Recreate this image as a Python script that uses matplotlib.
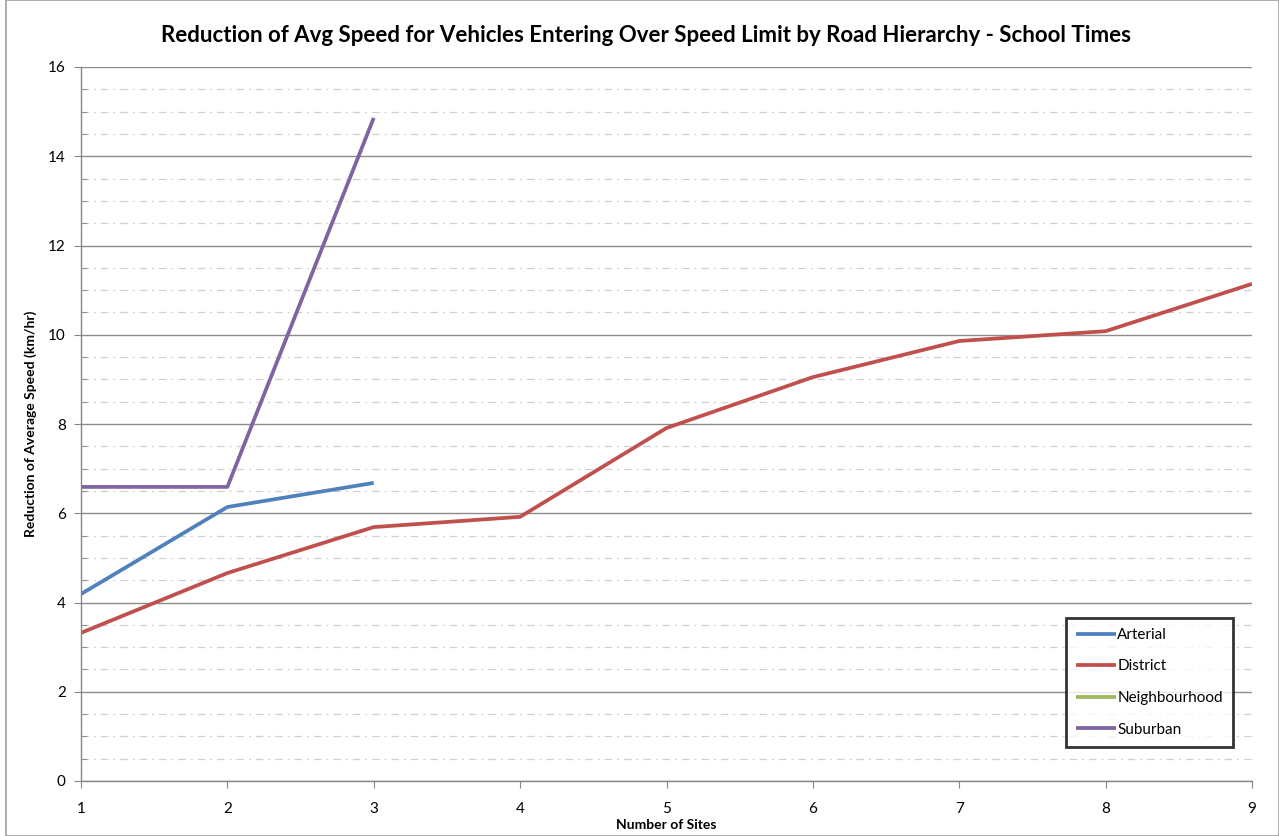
import matplotlib
matplotlib.use("Agg")
import matplotlib.pyplot as plt
from matplotlib.ticker import MultipleLocator
from matplotlib.patches import Rectangle

plt.rcParams['font.family'] = ['Lato', 'DejaVu Sans']

sites_arterial = [1, 2, 3]
arterial = [4.19, 6.14, 6.68]
sites_district = [1, 2, 3, 4, 5, 6, 7, 8, 9]
district = [3.32, 4.66, 5.69, 5.92, 7.91, 9.05, 9.86, 10.08, 11.14]
sites_neighbourhood = []
neighbourhood = []
sites_suburban = [1, 2, 3]
suburban = [6.59, 6.59, 14.86]

series = [
    ("Arterial", sites_arterial, arterial, "#4F81BD"),
    ("District", sites_district, district, "#C0504D"),
    ("Neighbourhood", sites_neighbourhood, neighbourhood, "#9BBB59"),
    ("Suburban", sites_suburban, suburban, "#8064A2"),
]

fig = plt.figure(figsize=(12.79, 8.36), dpi=100)
ax = fig.add_axes([81/1279, 55/836, (1252-81)/1279, (781-67)/836])

for name, xs, ys, c in series:
    ax.plot(xs, ys, color=c, lw=2.7, label=name, solid_capstyle='butt')

ax.set_xlim(1, 9)
ax.set_ylim(0, 16)
ax.xaxis.set_major_locator(MultipleLocator(1))
ax.yaxis.set_major_locator(MultipleLocator(2))
ax.yaxis.set_minor_locator(MultipleLocator(0.5))
ax.grid(which='major', axis='y', color='#8C8C8C', lw=1.0)
ax.grid(which='minor', axis='y', color='#D0D0D0', lw=0.9, linestyle=(0, (6, 4, 1.5, 4)))
ax.set_axisbelow(True)
for s in ['top', 'right']:
    ax.spines[s].set_visible(False)
for s in ['left', 'bottom']:
    ax.spines[s].set_color('#868686')
    ax.spines[s].set_linewidth(1.0)
ax.tick_params(axis='both', which='major', direction='out', length=5, color='#868686', labelsize=11, pad=6)
ax.tick_params(axis='y', which='minor', direction='in', length=4, color='#868686')
ax.tick_params(axis='x', which='major', pad=10)

ax.set_xlabel("Number of Sites", fontsize=10, fontweight='bold', labelpad=2)
ax.set_ylabel("Reduction of Average Speed (km/hr)", fontsize=10, fontweight='bold', labelpad=8)
fig.text(0.505, 1 - 35/836, "Reduction of Avg Speed for Vehicles Entering Over Speed Limit by Road Hierarchy - School Times",
         ha='center', va='center', fontsize=16, fontweight='bold')

leg = ax.legend(loc='upper left', bbox_to_anchor=((1066-81)/1171, (781-618)/714), frameon=True,
                fancybox=False, fontsize=11, handlelength=2.6, handletextpad=0.1,
                labelspacing=1.15, borderpad=0.65, borderaxespad=0)
leg.get_frame().set_edgecolor('black')
leg.get_frame().set_linewidth(2)

fig.patches.append(Rectangle((6/1279, 0), (1279-6)/1279, 1, transform=fig.transFigure,
                             fill=False, edgecolor='#A0A0A0', lw=1.2))

fig.savefig("out.png", dpi=100)
